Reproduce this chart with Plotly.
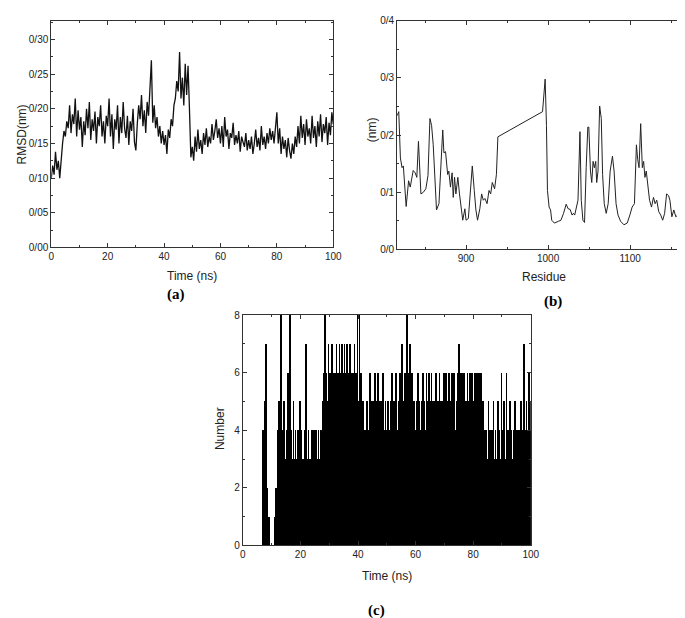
import plotly.graph_objects as go

W, H = 685, 618

# ---------------- (a) RMSD vs time, 0.5 ns steps ----------------
rmsd_00_10 = [0.100, 0.118, 0.105, 0.138, 0.112, 0.125, 0.100, 0.130, 0.150, 0.168,
              0.160, 0.182, 0.172, 0.205, 0.165, 0.192, 0.178, 0.215, 0.160, 0.198]
rmsd_10_20 = [0.170, 0.188, 0.145, 0.182, 0.162, 0.200, 0.172, 0.210, 0.155, 0.185,
              0.168, 0.196, 0.150, 0.188, 0.175, 0.205, 0.160, 0.182, 0.150, 0.190]
rmsd_20_30 = [0.175, 0.215, 0.160, 0.192, 0.142, 0.185, 0.170, 0.205, 0.150, 0.188,
              0.165, 0.210, 0.172, 0.158, 0.190, 0.148, 0.182, 0.168, 0.200, 0.152]
rmsd_30_40 = [0.140, 0.178, 0.205, 0.185, 0.220, 0.175, 0.198, 0.165, 0.210, 0.190,
              0.228, 0.270, 0.180, 0.205, 0.172, 0.188, 0.160, 0.175, 0.150, 0.168]
rmsd_40_50 = [0.148, 0.162, 0.135, 0.170, 0.158, 0.185, 0.175, 0.205, 0.215, 0.240,
              0.225, 0.282, 0.215, 0.245, 0.205, 0.265, 0.220, 0.262, 0.200, 0.130]
rmsd_50_60 = [0.145, 0.125, 0.160, 0.138, 0.170, 0.142, 0.155, 0.135, 0.165, 0.148,
              0.172, 0.145, 0.160, 0.150, 0.178, 0.155, 0.168, 0.185, 0.158, 0.172]
rmsd_60_70 = [0.150, 0.175, 0.145, 0.188, 0.160, 0.170, 0.142, 0.165, 0.158, 0.180,
              0.148, 0.162, 0.150, 0.168, 0.138, 0.160, 0.152, 0.145, 0.165, 0.140]
rmsd_70_80 = [0.155, 0.142, 0.160, 0.135, 0.150, 0.170, 0.145, 0.158, 0.140, 0.175,
              0.148, 0.160, 0.142, 0.165, 0.150, 0.172, 0.155, 0.168, 0.150, 0.178]
rmsd_80_90 = [0.195, 0.150, 0.172, 0.135, 0.160, 0.142, 0.155, 0.130, 0.158, 0.140,
              0.128, 0.150, 0.135, 0.160, 0.145, 0.175, 0.150, 0.190, 0.158, 0.178]
rmsd_90_100 = [0.148, 0.185, 0.160, 0.172, 0.150, 0.190, 0.158, 0.175, 0.145, 0.182,
               0.160, 0.192, 0.152, 0.178, 0.165, 0.188, 0.148, 0.180, 0.162, 0.195, 0.178]
rmsd = (rmsd_00_10 + rmsd_10_20 + rmsd_20_30 + rmsd_30_40 + rmsd_40_50
        + rmsd_50_60 + rmsd_60_70 + rmsd_70_80 + rmsd_80_90 + rmsd_90_100)
rmsd_time = [i * 0.5 for i in range(len(rmsd))]

# ---------------- (b) RMSF per residue ----------------
residue = [816, 818, 820, 822, 823.6, 826, 827, 830, 832, 835.6, 838, 840, 842, 845, 848, 851,
           853.6, 856, 858, 860, 862, 864, 867, 869.6, 871.6, 873, 875, 877.6, 879, 881, 883,
           884.4, 886, 887.6, 890, 892, 894, 896, 898.6, 900, 902.8, 907.6, 910, 912, 914,
           916.8, 919, 921, 923, 925.6, 928, 930, 932, 934.8, 937, 938.8,
           993.2, 994.8, 996.4, 998, 999.2, 1001.2, 1003, 1004.4, 1007.6, 1012.4, 1015.6,
           1018.8, 1022, 1024.4, 1026.8, 1029.2, 1030.8, 1032.4, 1034, 1036.4, 1038.8, 1040.4,
           1042.4, 1044.4, 1046.4, 1048.4, 1049.6, 1051.6, 1053.2, 1054.8, 1056.4, 1058,
           1059.2, 1060.8, 1062.8, 1064.8, 1066.4, 1068.4, 1070.8, 1073.2, 1075.6, 1078.4,
           1080.4, 1082.8, 1085.2, 1088.4, 1092.4, 1096.4, 1099.6, 1102.4, 1105.2, 1107.6,
           1109.2, 1110.8, 1112.8, 1114.8, 1116.4, 1118, 1119.6, 1121.2, 1123.6, 1126,
           1128.4, 1130.4, 1132.4, 1134.8, 1137.2, 1139.6, 1142, 1144.4, 1146.8, 1148.4,
           1150.8, 1153.2, 1155.6, 1158, 1160.4, 1162.8]
rmsf = [0.234, 0.241, 0.160, 0.143, 0.146, 0.080, 0.075, 0.120, 0.109, 0.138, 0.134, 0.126,
        0.189, 0.097, 0.100, 0.106, 0.129, 0.229, 0.217, 0.183, 0.131, 0.069, 0.080, 0.171,
        0.209, 0.169, 0.171, 0.131, 0.137, 0.109, 0.134, 0.091, 0.126, 0.097, 0.126, 0.097,
        0.069, 0.051, 0.071, 0.051, 0.054, 0.146, 0.103, 0.069, 0.051, 0.071, 0.097, 0.086,
        0.089, 0.080, 0.103, 0.097, 0.117, 0.106, 0.131, 0.197,
        0.241, 0.274, 0.298, 0.217, 0.103, 0.074, 0.069, 0.051, 0.046, 0.049, 0.051, 0.063,
        0.079, 0.071, 0.070, 0.060, 0.063, 0.060, 0.071, 0.086, 0.206, 0.086, 0.051, 0.047,
        0.143, 0.214, 0.214, 0.137, 0.117, 0.154, 0.143, 0.154, 0.117, 0.137, 0.251, 0.229,
        0.131, 0.080, 0.063, 0.080, 0.137, 0.163, 0.137, 0.080, 0.060, 0.049, 0.043, 0.046,
        0.060, 0.074, 0.080, 0.183, 0.157, 0.143, 0.220, 0.143, 0.154, 0.126, 0.137, 0.120,
        0.086, 0.074, 0.091, 0.080, 0.086, 0.066, 0.060, 0.051, 0.063, 0.097, 0.094, 0.086,
        0.057, 0.069, 0.057, 0.060, 0.054, 0.077]

# ---------------- (c) number of H-bonds, 0.25 ns steps ----------------
hb_00_10 = [0] * 27 + [4, 3, 3, 5, 7, 2, 2, 1, 1, 0, 0, 0, 0]
hb_10_20 = [0, 0, 0, 1, 2, 1, 2, 4, 3, 5, 3, 3, 8, 3, 4, 3, 5, 3, 3, 2,
            4, 3, 6, 3, 8, 3, 4, 2, 3, 5, 3, 3, 4, 2, 3, 4, 3, 3, 5, 3]
hb_20_30 = [4, 2, 3, 3, 2, 4, 3, 7, 3, 2, 4, 3, 3, 2, 4, 3, 4, 3, 2, 4,
            3, 4, 2, 3, 4, 2, 3, 4, 4, 4, 5, 6, 4, 8, 5, 6, 4, 5, 7, 5]
hb_30_40 = [6, 4, 5, 7, 5, 6, 4, 5, 6, 7, 5, 6, 5, 7, 6, 5, 6, 7, 5, 6,
            7, 5, 6, 5, 7, 6, 5, 6, 7, 5, 6, 4, 5, 6, 7, 5, 6, 4, 8, 5]
hb_40_50 = [4, 8, 5, 6, 4, 3, 5, 4, 3, 4, 3, 5, 4, 3, 4, 6, 4, 5, 4, 3,
            5, 4, 6, 4, 5, 3, 4, 6, 4, 5, 3, 4, 5, 4, 6, 4, 3, 5, 4, 4]
hb_50_60 = [5, 4, 3, 4, 5, 4, 6, 3, 4, 5, 4, 4, 6, 3, 4, 5, 4, 6, 4, 5,
            7, 4, 5, 4, 6, 5, 4, 8, 5, 6, 4, 7, 5, 4, 6, 5, 4, 5, 3, 4]
hb_60_70 = [5, 4, 6, 4, 5, 3, 4, 5, 4, 6, 4, 5, 4, 3, 6, 4, 5, 6, 4, 5,
            4, 6, 5, 4, 5, 3, 4, 6, 5, 4, 5, 4, 6, 3, 5, 4, 5, 4, 6, 4]
hb_70_80 = [5, 6, 4, 5, 3, 6, 4, 5, 4, 6, 5, 4, 6, 5, 4, 3, 5, 6, 5, 7,
            5, 6, 4, 6, 5, 4, 6, 5, 3, 5, 4, 6, 5, 4, 6, 5, 4, 6, 5, 4]
hb_80_90 = [5, 6, 4, 5, 6, 4, 5, 6, 3, 5, 6, 4, 5, 3, 4, 2, 3, 4, 2, 3,
            5, 3, 4, 2, 3, 4, 3, 5, 2, 3, 4, 3, 2, 5, 3, 4, 3, 2, 6, 3]
hb_90_100 = [4, 3, 5, 2, 3, 6, 3, 4, 2, 3, 5, 3, 4, 2, 3, 4, 3, 5, 2, 3,
             4, 3, 2, 4, 3, 5, 3, 4, 2, 7, 3, 4, 3, 5, 2, 4, 6, 3, 5, 4]
hbonds = (hb_00_10 + hb_10_20 + hb_20_30 + hb_30_40 + hb_40_50
          + hb_50_60 + hb_60_70 + hb_70_80 + hb_80_90 + hb_90_100)
hb_time = [(i + 1) * 0.25 for i in range(len(hbonds))]


def px(x):
    return x / W


def py(y):
    return 1 - y / H


fig = go.Figure()
fig.add_trace(go.Scatter(x=rmsd_time, y=rmsd, mode="lines",
                         line=dict(color="#111111", width=1.3), xaxis="x", yaxis="y"))
fig.add_trace(go.Scatter(x=residue, y=rmsf, mode="lines",
                         line=dict(color="#222222", width=1), xaxis="x2", yaxis="y2"))
fig.add_trace(go.Bar(x=hb_time, y=hbonds, width=0.25, marker=dict(color="black", line=dict(width=0)),
                     xaxis="x3", yaxis="y3"))

tickfont = dict(family="Liberation Sans, Arial", size=10, color="#222")


def ax(domain, rng, anchor, **kw):
    d = dict(domain=domain, range=rng, anchor=anchor, showline=True, linecolor="#333", linewidth=1,
             mirror="allticks", ticks="inside", ticklen=4, tickcolor="#333", showgrid=False,
             zeroline=False, tickfont=tickfont, fixedrange=True)
    d.update(kw)
    return d


fig.update_layout(
    width=W, height=H, margin=dict(l=0, r=0, t=0, b=0),
    paper_bgcolor="white", plot_bgcolor="white", showlegend=False, bargap=0,
    xaxis=ax([px(41), px(328)], [0, 100], "y", dtick=20,
             minor=dict(ticks="inside", ticklen=2, dtick=10, tickcolor="#333")),
    yaxis=ax([py(238), py(7)], [0, 0.327], "x",
             tickvals=[0, 0.05, 0.10, 0.15, 0.20, 0.25, 0.30],
             ticktext=["0/00", "0/05", "0/10", "0/15", "0/20", "0/25", "0/30"],
             minor=dict(ticks="inside", ticklen=2, dtick=0.025, tickcolor="#333")),
    xaxis2=ax([px(393), px(682)], [816, 1162], "y2", tickvals=[900, 1000, 1100],
              minor=dict(ticks="inside", ticklen=2, tickvals=[850, 950, 1050, 1150], tickcolor="#333")),
    yaxis2=ax([py(240), py(7)], [0, 0.4], "x2",
              tickvals=[0, 0.1, 0.2, 0.3, 0.4], ticktext=["0/0", "0/1", "0/2", "0/3", "0/4"],
              minor=dict(ticks="inside", ticklen=2, dtick=0.05, tickcolor="#333")),
    xaxis3=ax([px(236), px(529)], [0, 100], "y3", dtick=20,
              minor=dict(ticks="inside", ticklen=2, dtick=10, tickcolor="#333")),
    yaxis3=ax([py(542), py(307)], [0, 8], "x3", dtick=2,
              minor=dict(ticks="inside", ticklen=2, dtick=1, tickcolor="#333")),
)

title_font = dict(family="Liberation Sans, Arial", size=12, color="#222")
label_font = dict(family="Liberation Serif, Times New Roman", size=15, color="black")
notes = [
    ("RMSD(nm)", 11, 123, -90, title_font),
    ("Time (ns)", 184, 267, 0, title_font),
    ("<b>(a)</b>", 168, 286, 0, label_font),
    ("(nm)", 367, 118, -90, title_font),
    ("Residue", 542, 268, 0, title_font),
    ("<b>(b)</b>", 552, 293, 0, label_font),
    ("Number", 213, 423, -90, title_font),
    ("Time (ns)", 383, 573, 0, title_font),
    ("<b>(c)</b>", 372, 608, 0, label_font),
]
for text, x, y, ang, font in notes:
    fig.add_annotation(text=text, x=px(x), y=py(y), xref="paper", yref="paper",
                       showarrow=False, textangle=ang, font=font, xanchor="center", yanchor="middle")

fig.write_html("out.html")
